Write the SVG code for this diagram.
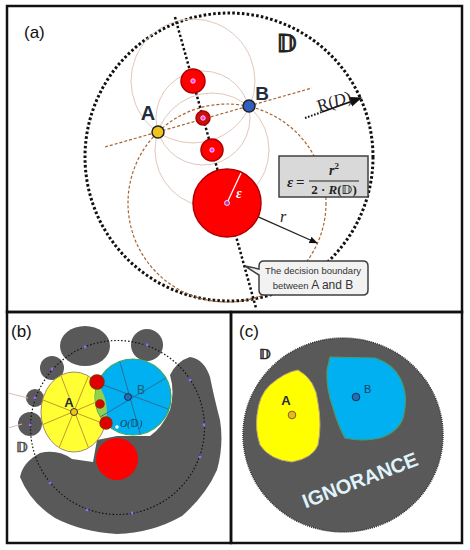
<svg xmlns="http://www.w3.org/2000/svg" width="470" height="550" viewBox="0 0 470 550">
<defs>
<style>
.frame{fill:none;stroke:#111;stroke-width:2.5}
.lbl{font-family:"Liberation Sans",Arial,sans-serif}
.pt{font-family:"Liberation Sans",Arial,sans-serif;font-weight:bold}
.tan{fill:none;stroke:#e0c8bc;stroke-width:1}
.brown{fill:none;stroke:#a8642e;stroke-width:1.2;stroke-dasharray:3 2}
.dotbig{fill:none;stroke:#111;stroke-width:3;stroke-dasharray:2.6 2.2}
.red{fill:#ff0000;stroke:#b00000;stroke-width:1.5}
.mag{fill:#ff33ff;stroke:#fff;stroke-width:0.8}
.math{font-family:"Liberation Serif","DejaVu Serif",serif}
.dd{font-family:"DejaVu Sans","DejaVu Serif",sans-serif}
.gray{fill:#595959}
.pdot{fill:#9966ff}
.yl{stroke:#c09a30;stroke-width:1}
.bl{stroke:#2a6f9a;stroke-width:1}
</style>
<marker id="ah" viewBox="0 0 10 10" refX="9" refY="5" markerWidth="7" markerHeight="7" orient="auto-start-reverse"><path d="M0,1 L10,5 L0,9 z" fill="#111"/></marker>
<clipPath id="cy"><ellipse cx="74" cy="412" rx="33" ry="40"/></clipPath>
<clipPath id="cb"><circle cx="133" cy="397" r="38"/></clipPath>
</defs>

<!-- frames -->
<g id="frames">
<rect class="frame" x="7" y="6" width="455" height="306"/>
<rect class="frame" x="7" y="312" width="224" height="231"/>
<rect class="frame" x="231" y="312" width="231" height="231"/>
</g>

<!-- panel (a) -->
<g id="panel-a">
<text class="lbl" x="24" y="38" font-size="17" fill="#111">(a)</text>
<circle class="dotbig" cx="229" cy="157" r="144"/>
<g id="tan-circles">
<circle class="tan" cx="193" cy="81" r="62"/>
<circle class="tan" cx="203" cy="118" r="47"/>
<circle class="tan" cx="212" cy="150" r="57"/>
</g>
<circle class="brown" cx="227" cy="203" r="99"/>
<g id="connectors-a">
<line class="brown" x1="105" y1="147" x2="312" y2="88"/>
<line x1="175" y1="17" x2="256" y2="308" stroke="#111" stroke-width="2.5" stroke-dasharray="2.4 2.2"/>
<line x1="305" y1="118" x2="322" y2="112" stroke="#111" stroke-width="2" stroke-dasharray="1.6 1.6"/>
<line x1="322" y1="112" x2="361" y2="98" stroke="#111" stroke-width="1.8" marker-end="url(#ah)"/>
<line x1="227" y1="203" x2="317" y2="243" stroke="#222" stroke-width="1.2" marker-end="url(#ah)"/>
</g>
<g id="red-circles">
<circle class="red" cx="193" cy="81" r="12"/>
<circle class="red" cx="203" cy="118" r="7" style="fill:#c81010"/>
<circle class="red" cx="212" cy="150" r="11"/>
<circle class="red" cx="227" cy="203" r="34"/>
<line x1="227" y1="203" x2="241" y2="173" stroke="#fff" stroke-width="1.3"/>
<circle class="mag" cx="193" cy="81" r="2.2"/>
<circle class="mag" cx="203" cy="118" r="2.2"/>
<circle class="mag" cx="212" cy="150" r="2.2"/>
<circle class="mag" cx="227" cy="203" r="2.5" style="fill:#c030c0"/>
<text class="math" x="236" y="198" font-size="14" font-style="italic" font-weight="bold" fill="#fff">ε</text>
</g>
<g id="node-A-a">
<circle cx="158" cy="132" r="6" fill="#f2c21a" stroke="#222" stroke-width="1.5"/>
<text class="pt" x="148" y="120" font-size="20" text-anchor="middle" fill="#1f2d3d">A</text>
</g>
<g id="node-B-a">
<circle cx="249" cy="106" r="6" fill="#2f5fc0" stroke="#222" stroke-width="1.5"/>
<text class="pt" x="262" y="100" font-size="19" text-anchor="middle" fill="#1f2d3d">B</text>
</g>
<text class="dd" x="287" y="52" font-size="24" font-style="italic" font-weight="bold" text-anchor="middle" fill="#222" stroke="#222" stroke-width="0.9">𝔻</text>
<text class="math" x="334" y="107" font-size="17" fill="#222" text-anchor="middle" transform="rotate(-17 334 101)">R(<tspan font-style="italic">D</tspan>)</text>
<text class="math" x="283" y="222" font-size="16" font-style="italic" fill="#222" text-anchor="middle">r</text>
<g id="formula">
<rect x="279" y="156" width="89" height="41" fill="#d9d9d9" stroke="#404040" stroke-width="1.5"/>
<text class="math" x="287" y="187" font-size="15" font-weight="bold" font-style="italic" fill="#222">ε</text>
<text class="math" x="296" y="187" font-size="15" font-weight="bold" fill="#222">=</text>
<text class="math" x="334" y="175" font-size="14" font-weight="bold" font-style="italic" fill="#222" text-anchor="middle">r<tspan font-size="9" dy="-6" font-style="normal">2</tspan></text>
<line x1="309" y1="181" x2="359" y2="181" stroke="#222" stroke-width="1.2"/>
<text class="math" x="334" y="194" font-size="13" font-weight="bold" fill="#222" text-anchor="middle">2 · <tspan font-style="italic">R</tspan>(<tspan font-family="DejaVu Sans,sans-serif" font-style="italic">𝔻</tspan>)</text>
</g>
<g id="callout">
<path d="M264,261 H363 Q368,261 368,266 V290 Q368,295 363,295 H264 Q259,295 259,290 V275 L245,266 L259,269 V266 Q259,261 264,261 Z" fill="#f2f2f2" stroke="#404040" stroke-width="1.5"/>
<text class="lbl" x="313" y="274" font-size="9.5" fill="#333" text-anchor="middle">The decision boundary</text>
<text class="lbl" x="313" y="289" font-size="9.5" fill="#333" text-anchor="middle">between <tspan font-size="12">A and B</tspan></text>
</g>
</g>

<!-- panel (b) -->
<g id="panel-b">
<text class="lbl" x="11" y="337" font-size="17" fill="#111">(b)</text>
<g id="ignorance-b" class="gray">
<path d="M20,477 Q23,462 40,453 Q58,449 72,459 L93,462 L97,440 L117,436 L150,436 Q162,428 170,410 Q175,392 170,375 Q177,361 190,357 Q204,359 210,377 Q214,397 220,420 Q224,445 217,470 Q206,495 182,516 Q152,533 117,534 Q82,532 55,518 Q30,502 20,477 Z"/>
<ellipse cx="85" cy="346" rx="25" ry="20"/>
<circle cx="147" cy="345" r="16"/>
<circle cx="52" cy="368" r="12"/>
<circle cx="35" cy="398" r="9"/>
<circle cx="30" cy="424" r="12"/>
</g>
<line x1="8" y1="393" x2="28" y2="398" stroke="#e0b8b0" stroke-width="1"/>
<line x1="8" y1="428" x2="22" y2="424" stroke="#e0b8b0" stroke-width="1"/>
<circle cx="117.5" cy="427.5" r="87" fill="none" stroke="#111" stroke-width="1.2" stroke-dasharray="1.5 2"/>
<g id="node-A-b">
<ellipse cx="74" cy="412" rx="33" ry="40" fill="#ffff33" stroke="#a08a70" stroke-width="1"/>
<g clip-path="url(#cy)">
<line class="yl" x1="30" y1="430" x2="120" y2="392"/>
<line class="yl" x1="30" y1="395" x2="120" y2="430"/>
<line class="yl" x1="55" y1="360" x2="95" y2="465"/>
<line class="yl" x1="95" y1="360" x2="52" y2="465"/>
</g>
</g>
<g id="node-B-b">
<circle cx="133" cy="397" r="38" fill="#00b0f0" stroke="#38a860" stroke-width="1.2"/>
<g clip-path="url(#cb)">
<ellipse cx="74" cy="412" rx="33" ry="40" fill="#92d050"/>
<line class="bl" x1="90" y1="380" x2="176" y2="412"/>
<line class="bl" x1="95" y1="420" x2="176" y2="372"/>
<line class="bl" x1="118" y1="355" x2="142" y2="440"/>
</g>
</g>
<g id="red-b">
<circle class="red" cx="97" cy="382" r="7" style="fill:#e00000;stroke:#a02000"/>
<circle class="red" cx="100" cy="404" r="4" style="fill:#e00000;stroke:#a02000"/>
<circle class="red" cx="106" cy="423" r="6" style="fill:#e00000;stroke:#a02000"/>
<circle cx="117" cy="459" r="21" fill="#ff0000"/>
</g>
<circle cx="74" cy="412" r="3.5" fill="#f2c21a" stroke="#333" stroke-width="1"/>
<text class="pt" x="69" y="407" font-size="13" text-anchor="middle" fill="#1f2d3d">A</text>
<circle cx="128" cy="397" r="3.5" fill="#1f6fb8" stroke="#1a3050" stroke-width="1"/>
<text class="lbl" x="137" y="394" font-size="12" fill="#1a6070">B</text>
<circle cx="117" cy="427" r="1.8" fill="#fff"/>
<text class="math" x="120" y="427" font-size="10" font-style="italic" fill="#104060">O(<tspan font-family="DejaVu Sans,sans-serif" font-weight="bold">𝔻</tspan>)</text>
<g id="purple-dots">
<circle class="pdot" cx="85" cy="347" r="1.4"/>
<circle class="pdot" cx="147" cy="345" r="1.4"/>
<circle class="pdot" cx="190" cy="380" r="1.4"/>
<circle class="pdot" cx="204" cy="425" r="1.4"/>
<circle class="pdot" cx="200" cy="457" r="1.4"/>
<circle class="pdot" cx="132" cy="513" r="1.4"/>
<circle class="pdot" cx="87" cy="510" r="1.4"/>
<circle class="pdot" cx="50" cy="483" r="1.4"/>
<circle class="pdot" cx="30" cy="425" r="1.4"/>
<circle class="pdot" cx="35" cy="398" r="1.4"/>
<circle class="pdot" cx="52" cy="369" r="1.4"/>
</g>
<text class="dd" x="22" y="452" font-size="14" font-style="italic" font-weight="bold" fill="#666" stroke="#444" stroke-width="0.5" text-anchor="middle">𝔻</text>
</g>

<!-- panel (c) -->
<g id="panel-c">
<text class="lbl" x="239" y="337" font-size="17" fill="#111">(c)</text>
<ellipse id="ignorance-c" cx="343" cy="435" rx="100" ry="97" fill="#595959" stroke="#333" stroke-width="1.5" stroke-dasharray="1 1"/>
<text class="dd" x="265" y="359" font-size="14" font-style="italic" font-weight="bold" fill="#222" stroke="#222" stroke-width="0.5" text-anchor="middle">𝔻</text>
<g id="region-A-c">
<path d="M298,370 Q316,380 318,403 Q322,425 318,445 Q313,458 292,462 Q270,460 260,445 Q255,430 257,415 Q259,395 270,385 Q285,372 298,370 Z" fill="#ffff00" stroke="#b8a080" stroke-width="1"/>
<circle cx="292" cy="415" r="3.8" fill="#e8b820" stroke="#7a6020" stroke-width="1"/>
<text class="pt" x="286" y="405" font-size="13" text-anchor="middle" fill="#1f2d3d">A</text>
</g>
<g id="region-B-c">
<path d="M330,357 L375,358 Q393,364 400,378 Q409,395 403,418 Q398,432 380,438 Q362,442 345,438 Q338,425 333,408 Q326,388 327,370 Z" fill="#00b0f0" stroke="#4a9a70" stroke-width="1.2"/>
<circle cx="356" cy="397" r="3.8" fill="#1f6fb8" stroke="#1a3050" stroke-width="1"/>
<text class="lbl" x="364" y="393" font-size="11" fill="#1a4060">B</text>
</g>
<text class="lbl" x="360" y="487" font-size="20" font-weight="bold" fill="#dff3fb" text-anchor="middle" transform="rotate(-21 360 480)">IGNORANCE</text>
</g>
</svg>
